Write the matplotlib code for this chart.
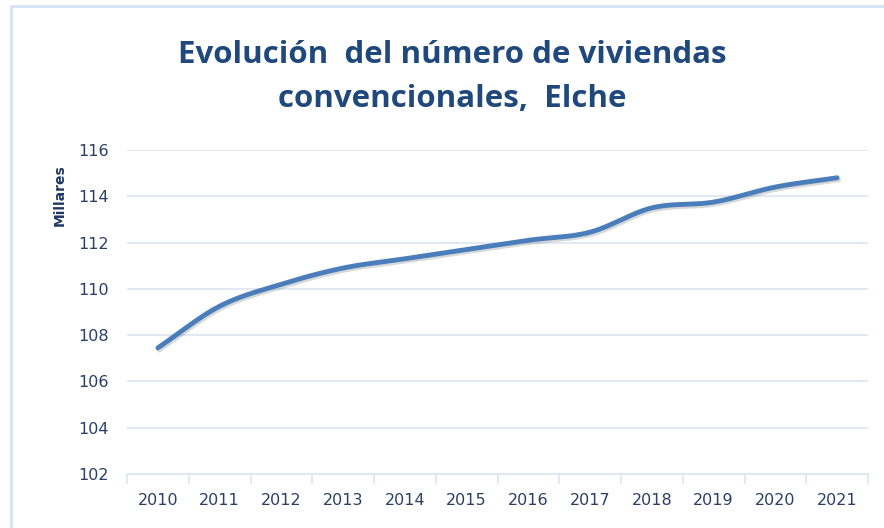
import numpy as np
import matplotlib
matplotlib.use("Agg")
import matplotlib.pyplot as plt
from matplotlib.patches import Rectangle
import matplotlib.patheffects as pe

years = ["2010", "2011", "2012", "2013", "2014", "2015", "2016", "2017", "2018", "2019", "2020", "2021"]
viviendas = [107.45, 109.25, 110.2, 110.9, 111.3, 111.7, 112.1, 112.45, 113.5, 113.75, 114.4, 114.8]
yticks = [102, 104, 106, 108, 110, 112, 114, 116]
title = "Evolución  del número de viviendas\nconvencionales,  Elche"
ylabel = "Millares"

W, H = 884, 528
fig = plt.figure(figsize=(W / 100, H / 100), dpi=100)
fig.patch.set_facecolor("white")

# outer chart border (light blue)
fig.add_artist(Rectangle((11 / W, -0.05), 1.2, 1 - 6 / H + 0.05, transform=fig.transFigure,
                         fill=False, edgecolor="#d6e3f5", linewidth=2))

x0, x1 = 127, 868
ytop, ybot = 150, 474
ax = fig.add_axes([x0 / W, 1 - ybot / H, (x1 - x0) / W, (ybot - ytop) / H])

x = np.arange(len(years))
y = np.array(viviendas)

# Excel-style smoothed line: Catmull-Rom spline through the data points
def catmull_rom(xs, ys, n=30):
    px = np.concatenate([[2 * xs[0] - xs[1]], xs, [2 * xs[-1] - xs[-2]]])
    py = np.concatenate([[2 * ys[0] - ys[1]], ys, [2 * ys[-1] - ys[-2]]])
    outx, outy = [], []
    t = np.linspace(0, 1, n, endpoint=False)
    for i in range(1, len(px) - 2):
        for arr, out in ((px, outx), (py, outy)):
            p0, p1, p2, p3 = arr[i - 1], arr[i], arr[i + 1], arr[i + 2]
            out.extend(0.5 * ((2 * p1) + (-p0 + p2) * t + (2 * p0 - 5 * p1 + 4 * p2 - p3) * t ** 2
                              + (-p0 + 3 * p1 - 3 * p2 + p3) * t ** 3))
    outx.append(xs[-1]); outy.append(ys[-1])
    return np.array(outx), np.array(outy)

sx, sy = catmull_rom(x.astype(float), y)
ax.plot(sx, sy, color="#4a7ebb", linewidth=3.5, solid_capstyle="round",
        path_effects=[pe.SimpleLineShadow(offset=(1.0, -1.5), shadow_color="#666666", alpha=0.25),
                      pe.Normal()], zorder=3)

ax.set_xlim(-0.5, len(years) - 0.5)
ax.set_ylim(102, 116)
ax.set_yticks(yticks)
ax.set_yticklabels([str(v) for v in yticks])
ax.set_xticks(x)
ax.set_xticklabels(years)
ax.set_xticks(np.arange(-0.5, len(years)), minor=True)

ax.grid(axis="y", color="#dbe5f4", linewidth=1.2)
ax.set_axisbelow(True)
for s in ["top", "right", "left"]:
    ax.spines[s].set_visible(False)
ax.spines["bottom"].set_color("#dbe5f4")
ax.spines["bottom"].set_linewidth(1.2)

tick_col = "#2b3f66"
ax.tick_params(axis="y", length=0, pad=13, labelsize=11.5, labelcolor=tick_col)
ax.tick_params(axis="x", which="major", length=0, pad=14, labelsize=11.5, labelcolor=tick_col)
ax.tick_params(axis="x", which="minor", length=7, width=1.2, color="#dbe5f4")
for lab in ax.get_xticklabels() + ax.get_yticklabels():
    lab.set_fontfamily(["Liberation Sans Narrow", "DejaVu Sans"])

fig.text(60 / W, 1 - 195 / H, ylabel, rotation=90, ha="center", va="center",
         fontsize=10, fontweight="bold", color="#1f3864", family=["Liberation Sans Narrow", "DejaVu Sans"])

fig.text(452 / W, 1 - 77 / H, title, ha="center", va="center", fontsize=22.5, fontweight="bold",
         color="#1f497d", family=["Open Sans", "DejaVu Sans"], linespacing=1.62)

fig.savefig("out.png", dpi=100, facecolor="white")
